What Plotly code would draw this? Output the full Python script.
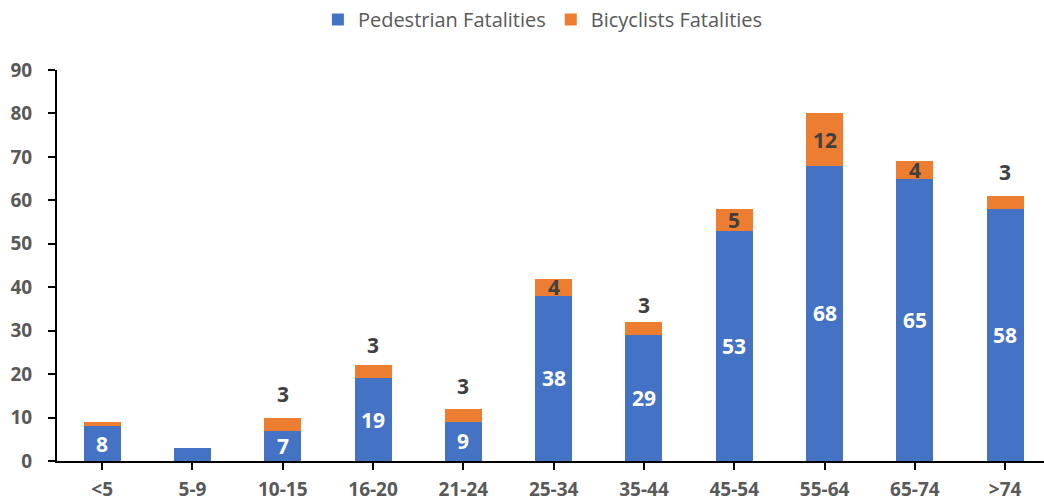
import plotly.graph_objects as go

# Fatalities by age group
age_groups = ["<5", "5-9", "10-15", "16-20", "21-24", "25-34", "35-44",
              "45-54", "55-64", "65-74", ">74"]
pedestrian = [8, 3, 7, 19, 9, 38, 29, 53, 68, 65, 58]
bicyclists = [1, 0, 3, 3, 3, 4, 3, 5, 12, 4, 3]

# label styling per group: "in" = centred in segment, "above" = over the stack, "" = none
ped_label_mode = ["in", "", "in", "in", "in", "in", "in", "in", "in", "in", "in"]
bike_label_mode = ["", "", "above", "above", "above", "in", "above", "in", "in", "in", "above"]
above_shift = [0, 0, 24, 20, 23, 0, 17, 0, 0, 0, 24]

BLUE = "#4472C4"
ORANGE = "#ED7D31"
GRAY = "#595959"
DARK = "#404040"
FONT = "Open Sans"

fig = go.Figure()
fig.add_trace(go.Bar(x=age_groups, y=pedestrian, name="Pedestrian Fatalities",
                     marker=dict(color=BLUE, line=dict(width=0)), width=0.41))
fig.add_trace(go.Bar(x=age_groups, y=bicyclists, name="Bicyclists Fatalities",
                     marker=dict(color=ORANGE, line=dict(width=0)), width=0.41))

annotations = []
for i, g in enumerate(age_groups):
    p, b = pedestrian[i], bicyclists[i]
    if ped_label_mode[i] == "in":
        annotations.append(dict(x=g, y=p / 2, text=f"<b>{p}</b>", showarrow=False,
                                font=dict(family=FONT, size=21, color="white")))
    if bike_label_mode[i] == "in":
        annotations.append(dict(x=g, y=p + b / 2, text=f"<b>{b}</b>", showarrow=False,
                                font=dict(family=FONT, size=21, color=DARK)))
    elif bike_label_mode[i] == "above":
        annotations.append(dict(x=g, y=p + b, text=f"<b>{b}</b>", showarrow=False,
                                yanchor="middle", yshift=above_shift[i],
                                font=dict(family=FONT, size=21, color=DARK)))

fig.update_layout(
    barmode="stack",
    width=1044, height=502,
    margin=dict(l=57, r=0, t=70, b=41, autoexpand=False),
    plot_bgcolor="white", paper_bgcolor="white",
    font=dict(family=FONT, color=GRAY),
    showlegend=True,
    legend=dict(orientation="h", x=0.52, xanchor="center", xref="container",
                y=1, yanchor="top", yref="container",
                font=dict(family=FONT, size=20, color=GRAY),
                traceorder="normal", itemwidth=30),
    annotations=annotations,
    xaxis=dict(range=[-0.5, 10.43], showline=True, linecolor="black", linewidth=2,
               ticks="outside", ticklen=7, tickwidth=2, tickcolor="black",
               showgrid=False, zeroline=False, fixedrange=True, automargin=False,
               tickfont=dict(family=FONT, size=19, color=GRAY),
               ticklabelstandoff=3),
    yaxis=dict(range=[0, 90], dtick=10, showline=True, linecolor="black", linewidth=2,
               ticks="outside", ticklen=7, tickwidth=2, tickcolor="black",
               showgrid=False, zeroline=False, automargin=False,
               tickfont=dict(family=FONT, size=19, color=GRAY),
               ticklabelstandoff=12),
)
fig.for_each_xaxis(lambda a: a.update(tickprefix="<b>", ticksuffix="</b>"))
fig.for_each_yaxis(lambda a: a.update(tickprefix="<b>", ticksuffix="</b>"))

fig.write_html("out.html")
